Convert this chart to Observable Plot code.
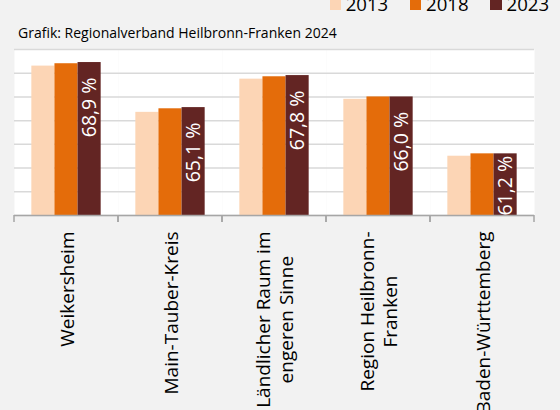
<!DOCTYPE html>
<html><head><meta charset="utf-8">
<script src="https://cdn.jsdelivr.net/npm/d3@7"></script>
<script src="https://cdn.jsdelivr.net/npm/@observablehq/plot@0.6"></script>
<style>
html,body{margin:0;padding:0;background:#f2f2f2;}
#wrap{position:relative;width:560px;height:410px;overflow:hidden;font-family:"Open Sans",sans-serif;color:#000;}
#legend{position:absolute;left:329.5px;top:-5.5px;display:flex;align-items:baseline;font-size:18.6px;line-height:1;}
.item{display:flex;align-items:baseline;margin-right:21.7px;}
.sw{display:inline-block;width:11.5px;height:14px;margin-right:4.7px;position:relative;top:-0.7px;}
#caption{position:absolute;left:18px;top:24px;font-size:14px;line-height:1.3;}
#chart{position:absolute;left:0;top:40px;}
</style></head>
<body><div id="wrap"><div id="legend"></div><div id="caption">Grafik: Regionalverband Heilbronn-Franken 2024</div><div id="chart"></div></div>
<script>
const categories = ["Weikersheim", "Main-Tauber-Kreis", "Ländlicher Raum im\nengeren Sinne", "Region Heilbronn-\nFranken", "Baden-Württemberg"];
const years = ["2013", "2018", "2023"];
const values2013 = [68.6, 64.7, 67.5, 65.8, 61.0];
const values2018 = [68.8, 65.0, 67.7, 66.0, 61.2];
const values2023 = [68.9, 65.1, 67.8, 66.0, 61.2];
const colors = ["#fcd5b5", "#e46c0a", "#632523"];
const yTicks = [56, 58, 60, 62, 64, 66, 68, 70];

const series = [values2013, values2018, values2023];
const data = categories.flatMap((c, i) => years.map((y, j) => ({cat: c, year: y, value: series[j][i]})));
const last = data.filter(d => d.year === years[years.length - 1]);
const fits = d => d.value >= 62.5;

// legend
const legend = document.getElementById("legend");
years.forEach((y, j) => {
  const it = document.createElement("div"); it.className = "item";
  const sw = document.createElement("span"); sw.className = "sw"; sw.style.background = colors[j];
  const tx = document.createElement("span"); tx.textContent = y;
  it.append(sw, tx); legend.append(it);
});

function boundaryTicks(index, scales) {
  const [x0, x1] = scales.x.range();
  const y0 = scales.y(yTicks[0]);
  const g = d3.create("svg:g");
  for (const x of [x0, x1]) {
    g.append("line").attr("x1", x).attr("x2", x).attr("y1", y0).attr("y2", y0 + 7)
      .attr("stroke", "#a6a6a6").attr("stroke-width", 1.5);
  }
  return g.node();
}

const plot = Plot.plot({
  width: 560,
  height: 370,
  marginLeft: 14,
  marginRight: 26,
  marginTop: 9,
  marginBottom: 195,
  style: {background: "transparent", fontFamily: "'Open Sans', sans-serif"},
  fx: {domain: categories, padding: 0, round: true},
  x: {domain: years, paddingInner: 0, paddingOuter: 0.75, round: false, axis: null},
  y: {domain: [yTicks[0], yTicks[yTicks.length - 1]], axis: null},
  color: {domain: years, range: colors},
  marks: [
    Plot.frame({fill: "white", stroke: "none"}),
    Plot.gridY(yTicks, {stroke: "#d9d9d9", strokeOpacity: 1, strokeWidth: 1.5}),
    Plot.barY(data, {fx: "cat", x: "year", y: "value", fill: "year", clip: true}),
    Plot.ruleY([yTicks[0]], {stroke: "#a6a6a6", strokeWidth: 1.5}),
    Plot.text(last.filter(fits), {fx: "cat", x: "year", y: "value", text: d => d.value.toFixed(1).replace(".", ",") + " %",
      rotate: -90, textAnchor: "end", dy: 15, fill: "white", fontSize: 19.5, clip: true}),
    Plot.text(last.filter(d => !fits(d)), {fx: "cat", x: "year", y: "value", text: d => d.value.toFixed(1).replace(".", ",") + " %",
      rotate: -90, textAnchor: "end", dy: 2, fill: "white", fontSize: 19.5, clip: true}),
    boundaryTicks,
    Plot.axisFx({anchor: "bottom", label: null, tickSize: 0, tickPadding: 16, tickRotate: -90,
      textAnchor: "middle", lineAnchor: "middle", lineHeight: 1.2, fontSize: 19, fill: "black"})
  ]
});
document.getElementById("chart").append(plot);
plot.querySelectorAll('g[aria-label="fx-axis tick label"] text').forEach(t => {
  const bb = t.getBBox();
  const shift = -(bb.x + bb.width);
  t.setAttribute("transform", (t.getAttribute("transform") || "") + ` translate(${shift},0)`);
});
</script>
</body></html>
